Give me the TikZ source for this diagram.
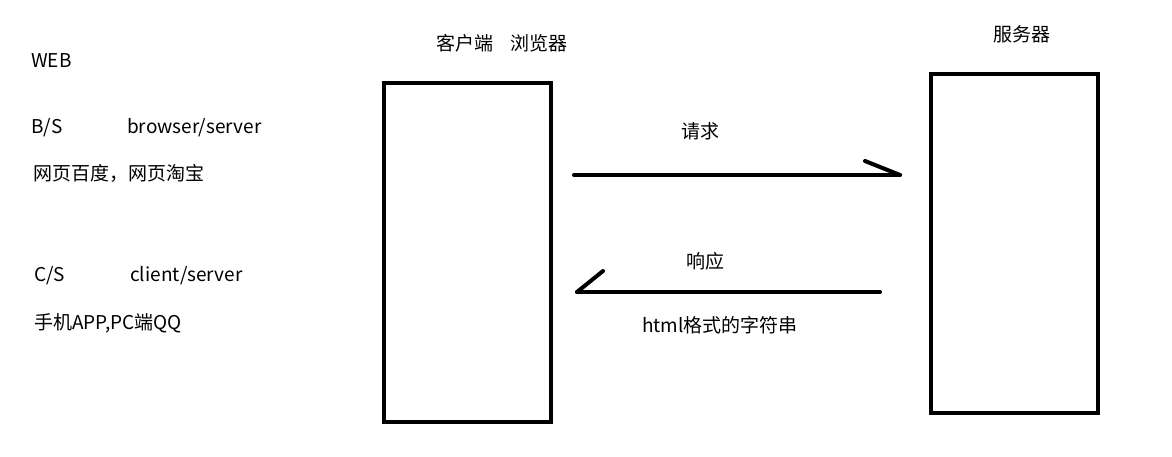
\documentclass[tikz,border=0pt]{standalone}
\usepackage{fontspec}
\setmainfont{Noto Sans CJK SC}
\begin{document}
\begin{tikzpicture}[x=1pt,y=-1pt,
  lbl/.style={inner sep=0pt,anchor=west,font=\fontsize{19}{22}\selectfont},
  clbl/.style={inner sep=0pt,anchor=center,font=\fontsize{19}{22}\selectfont},
  box/.style={draw,line width=4pt},
  conn/.style={line width=4pt,line cap=round}]
\useasboundingbox[fill=white] (0,0) rectangle (1172,456);
\node[lbl] (web) at (31,61) {WEB};
\node[lbl] (bs) at (31,128) {B/S};
\node[lbl] (bsname) at (127,128) {browser/server};
\node[lbl] (bsex) at (33,173) {网页百度，网页淘宝};
\node[lbl] (cs) at (34,276) {C/S};
\node[lbl] (csname) at (130,276) {client/server};
\node[lbl] (csex) at (34,323) {手机APP,PC端QQ};
\node[clbl] (clientlbl) at (502,43) {客户端\hspace{0.9em}浏览器};
\node[clbl] (serverlbl) at (1022,34) {服务器};
\node[clbl] (reqlbl) at (700,131) {请求};
\node[clbl] (resplbl) at (705,261) {响应};
\node[clbl] (htmllbl) at (720,325) {html格式的字符串};
\node[box,minimum width=167pt,minimum height=339pt,inner sep=0pt] (client) at (467.5,252.5) {};
\node[box,minimum width=167pt,minimum height=339pt,inner sep=0pt] (server) at (1014.5,243.5) {};
\coordinate (reqA) at (574,175);
\coordinate (reqB) at (900,175);
\coordinate (reqH) at (865,161);
\coordinate (respA) at (880,292);
\coordinate (respB) at (577,292);
\coordinate (respH) at (603,271);
\draw[conn] (reqA) -- (reqB);
\draw[conn] (reqH) -- (reqB);
\draw[conn] (respA) -- (respB);
\draw[conn] (respH) -- (respB);
\end{tikzpicture}
\end{document}
